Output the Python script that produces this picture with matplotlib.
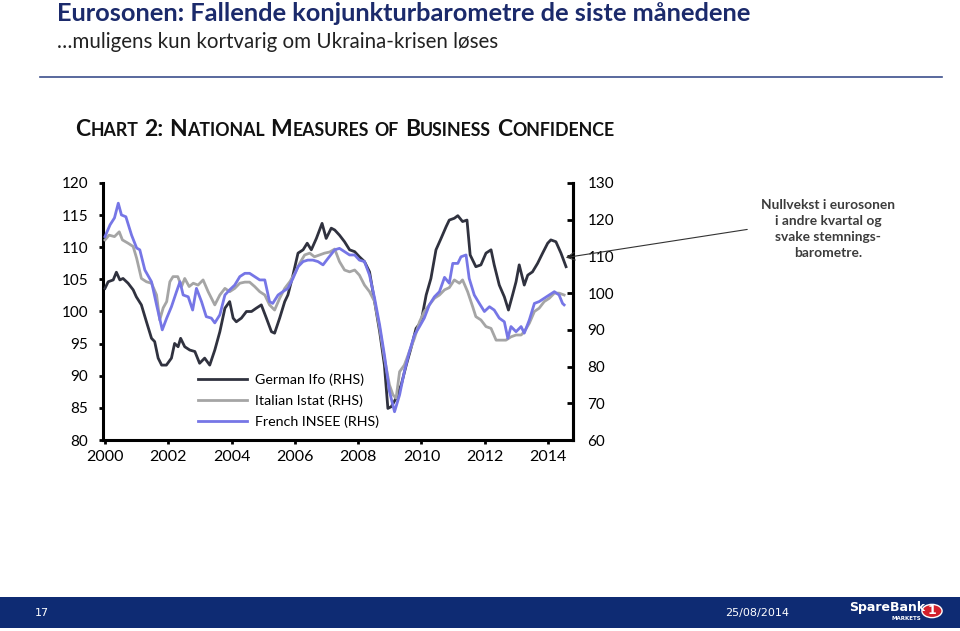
import matplotlib
matplotlib.use("Agg")
import matplotlib.pyplot as plt
from matplotlib.lines import Line2D
from matplotlib.patches import Rectangle, Circle, FancyArrowPatch
from matplotlib.transforms import IdentityTransform

plt.rcParams['font.family'] = ['Lato', 'DejaVu Sans']

# ---------------- data (right-hand scale) ----------------
german_t = [2000.0, 2000.1, 2000.26, 2000.36, 2000.47, 2000.57, 2000.73, 2000.89, 2000.99,
            2001.15, 2001.31, 2001.47, 2001.57, 2001.68, 2001.79, 2001.94, 2002.1, 2002.2,
            2002.31, 2002.39, 2002.52, 2002.68, 2002.84, 2002.99, 2003.15, 2003.31, 2003.47,
            2003.63, 2003.79, 2003.94, 2004.05, 2004.15, 2004.31, 2004.47, 2004.63, 2004.78,
            2004.94, 2005.1, 2005.26, 2005.36, 2005.52, 2005.68, 2005.78, 2005.94, 2006.1,
            2006.26, 2006.39, 2006.52, 2006.68, 2006.86, 2006.99, 2007.15, 2007.26, 2007.41,
            2007.57, 2007.73, 2007.89, 2008.04, 2008.2, 2008.36, 2008.52, 2008.68, 2008.83,
            2008.94, 2009.05, 2009.2, 2009.36, 2009.52, 2009.67, 2009.83, 2009.99, 2010.15,
            2010.3, 2010.46, 2010.62, 2010.78, 2010.88, 2011.04, 2011.15, 2011.3, 2011.44,
            2011.54, 2011.72, 2011.88, 2012.04, 2012.2, 2012.3, 2012.46, 2012.62, 2012.75,
            2012.88, 2012.99, 2013.09, 2013.25, 2013.36, 2013.51, 2013.67, 2013.83, 2013.99,
            2014.09, 2014.25, 2014.41, 2014.57]
german_v = [101.3, 103.1, 103.6, 105.7, 103.6, 104.0, 102.7, 100.9, 99.0,
            96.8, 92.2, 87.7, 86.8, 82.3, 80.4, 80.4, 82.3, 86.3,
            85.4, 87.7, 85.4, 84.5, 84.1, 80.9, 82.3, 80.4, 84.5,
            89.5, 95.9, 97.7, 93.2, 92.2, 93.2, 95.0, 95.0, 95.9,
            96.8, 93.2, 89.5, 89.1, 93.2, 97.7, 99.5, 104.9, 110.9,
            111.8, 113.6, 111.8, 114.9, 119.0, 114.9, 117.7, 117.2, 115.8,
            114.0, 111.8, 111.3, 109.9, 108.6, 105.8, 97.7, 89.5, 80.4,
            68.6, 69.1, 71.4, 75.0, 80.4, 85.0, 90.4, 92.2, 99.5,
            104.0, 111.8, 114.9, 118.1, 119.9, 120.4, 121.1, 119.5, 119.9,
            110.4, 107.2, 107.7, 110.9, 111.8, 107.7, 102.2, 99.0, 95.4,
            99.5, 103.1, 107.7, 102.2, 104.9, 105.8, 108.1, 110.9, 113.6,
            114.5, 114.0, 110.9, 107.2]

italian_t = [2000.0, 2000.13, 2000.3, 2000.45, 2000.55, 2000.73, 2000.89, 2001.0, 2001.15,
             2001.31, 2001.47, 2001.63, 2001.73, 2001.84, 2001.95, 2002.05, 2002.15, 2002.3,
             2002.42, 2002.52, 2002.66, 2002.79, 2002.94, 2003.1, 2003.26, 2003.47, 2003.63,
             2003.79, 2003.94, 2004.1, 2004.26, 2004.42, 2004.57, 2004.73, 2004.89, 2005.05,
             2005.2, 2005.36, 2005.52, 2005.68, 2005.84, 2006.0, 2006.15, 2006.31, 2006.47,
             2006.62, 2006.78, 2006.94, 2007.1, 2007.26, 2007.41, 2007.57, 2007.73, 2007.89,
             2008.04, 2008.2, 2008.36, 2008.52, 2008.68, 2008.83, 2008.99, 2009.1, 2009.2,
             2009.31, 2009.46, 2009.62, 2009.78, 2009.94, 2010.09, 2010.25, 2010.41, 2010.57,
             2010.73, 2010.88, 2011.04, 2011.2, 2011.3, 2011.46, 2011.62, 2011.72, 2011.88,
             2012.04, 2012.2, 2012.36, 2012.51, 2012.67, 2012.83, 2012.99, 2013.15, 2013.25,
             2013.41, 2013.57, 2013.72, 2013.88, 2014.04, 2014.2, 2014.35, 2014.51]
italian_v = [114.5, 115.8, 115.4, 116.7, 114.5, 113.6, 112.7, 109.5, 104.0,
             103.1, 102.7, 99.5, 92.7, 96.0, 97.7, 103.1, 104.5, 104.5,
             101.8, 104.0, 101.8, 102.7, 102.2, 103.6, 100.4, 96.8, 99.5,
             101.3, 100.4, 101.3, 102.7, 103.0, 103.0, 101.8, 100.4, 99.5,
             96.8, 95.4, 98.6, 101.3, 103.1, 105.4, 108.1, 110.4, 110.9,
             109.9, 110.4, 110.9, 111.2, 112.0, 108.6, 106.3, 105.8, 106.3,
             104.9, 102.2, 100.4, 97.7, 90.4, 82.3, 75.0, 72.3, 71.4,
             78.6, 80.4, 84.1, 87.7, 92.2, 95.0, 96.8, 98.6, 99.5,
             100.9, 101.5, 103.6, 102.7, 103.6, 100.4, 96.3, 93.6, 92.7,
             90.9, 90.4, 87.2, 87.2, 87.2, 88.1, 88.6, 88.6, 89.5,
             91.8, 95.0, 95.9, 97.7, 98.6, 100.0, 100.0, 99.5]

french_t = [2000.0, 2000.16, 2000.3, 2000.42, 2000.52, 2000.66, 2000.84,
            2001.0, 2001.1, 2001.26, 2001.47, 2001.63, 2001.81, 2001.95,
            2002.1, 2002.26, 2002.37, 2002.47, 2002.63, 2002.77, 2002.89,
            2003.05, 2003.2, 2003.36, 2003.47, 2003.63, 2003.79, 2003.94,
            2004.1, 2004.26, 2004.42, 2004.57, 2004.73, 2004.89,
            2005.05, 2005.2, 2005.3, 2005.47, 2005.62, 2005.78, 2005.94,
            2006.1, 2006.26, 2006.41, 2006.57, 2006.73, 2006.89,
            2007.05, 2007.26, 2007.41, 2007.57, 2007.73, 2007.89,
            2008.04, 2008.2, 2008.36, 2008.52, 2008.68, 2008.83, 2008.99,
            2009.15, 2009.31, 2009.46, 2009.62, 2009.78, 2009.94,
            2010.09, 2010.25, 2010.41, 2010.57, 2010.73, 2010.88, 2010.99,
            2011.15, 2011.25, 2011.41, 2011.51, 2011.67, 2011.83, 2011.99,
            2012.15, 2012.3, 2012.46, 2012.62, 2012.73, 2012.83, 2012.99,
            2013.15, 2013.25, 2013.41, 2013.57, 2013.72, 2013.88,
            2014.04, 2014.2, 2014.35, 2014.46, 2014.51]
french_v = [115.4, 118.6, 120.5, 124.5, 121.3, 120.8, 115.8,
            112.3, 111.8, 106.3, 103.1, 96.8, 90.0, 93.2,
            96.3, 100.4, 103.1, 99.5, 99.0, 95.4, 101.3,
            97.7, 93.6, 93.2, 91.9, 94.1, 99.5, 100.9,
            102.2, 104.5, 105.4, 105.4, 104.5, 103.6,
            103.6, 97.7, 97.2, 99.5, 100.4, 101.3, 104.0,
            107.2, 108.6, 109.0, 109.0, 108.6, 107.7,
            109.5, 111.8, 112.2, 111.3, 110.4, 110.4,
            109.0, 108.6, 104.9, 98.6, 91.3, 83.2, 73.2,
            67.7, 72.3, 78.6, 84.1, 88.6, 90.9,
            93.2, 96.8, 99.0, 100.4, 104.3, 102.7, 108.1,
            108.1, 109.9, 110.4, 104.0, 99.5, 97.2, 95.0,
            96.3, 95.4, 93.2, 92.2, 87.7, 90.9, 89.5,
            90.9, 89.1, 92.7, 97.2, 97.7, 98.6,
            99.5, 100.4, 99.5, 97.2, 96.8]

series_labels = ["German Ifo (RHS)", "Italian Istat (RHS)", "French INSEE (RHS)"]
x_ticks = [2000, 2002, 2004, 2006, 2008, 2010, 2012, 2014]
left_ticks = [80, 85, 90, 95, 100, 105, 110, 115, 120]
right_ticks = [60, 70, 80, 90, 100, 110, 120, 130]

title = "Eurosonen: Fallende konjunkturbarometre de siste månedene"
subtitle = "…muligens kun kortvarig om Ukraina-krisen løses"
note = "Nullvekst i eurosonen\ni andre kvartal og\nsvake stemnings-\nbarometre."
page_no = "17"
date_txt = "25/08/2014"

# ---------------- styling ----------------
W, H = 960, 631
NAVY = "#1B2A6B"
BAR = "#0E2B73"
C_GER = "#30323F"
C_ITA = "#A5A5A5"
C_FRA = "#7676E6"

fig = plt.figure(figsize=(9.6, 6.31), dpi=100)
fig.patch.set_facecolor("white")


def fx(x):
    return x / W


def fy(y):
    return 1 - y / H


# slide header
fig.text(fx(57), fy(21), title, fontsize=18.3, fontweight="bold", color=NAVY,
         va="baseline", ha="left")
fig.text(fx(57), fy(48), subtitle, fontsize=14.8, color="#222222",
         va="baseline", ha="left")
fig.add_artist(Line2D([fx(40), fx(942)], [fy(77), fy(77)], transform=fig.transFigure,
                      color="#3C4F8C", lw=1.2))

# chart title in small caps
renderer = fig.canvas.get_renderer()
BIG, SMALL, GAP = 16.5, 12.8, 6
pieces = [("C", BIG, 0), ("HART", SMALL, GAP), ("2:", BIG, GAP), ("N", BIG, 0), ("ATIONAL", SMALL, GAP),
          ("M", BIG, 0), ("EASURES", SMALL, GAP), ("OF", SMALL, GAP), ("B", BIG, 0),
          ("USINESS", SMALL, GAP), ("C", BIG, 0), ("ONFIDENCE", SMALL, 0)]
xpos = 75
for txt, size, gap in pieces:
    t = fig.text(fx(xpos), fy(136), txt, fontsize=size, fontweight="bold", color="#111111",
                 va="baseline", ha="left")
    bb = t.get_window_extent(renderer)
    xpos = bb.x1 + gap

# axes
ax = fig.add_axes([fx(103), fy(440), (573 - 103) / W, (440 - 183) / H])
ax.set_xlim(1999.937, 2014.79)
ax.set_ylim(80, 120)
ax.set_yticks(left_ticks)
ax.set_xticks(x_ticks)
ax.set_xticklabels([str(v) for v in x_ticks])
for s in ["left", "bottom", "right"]:
    ax.spines[s].set_linewidth(2.2)
    ax.spines[s].set_color("black")
ax.spines["top"].set_visible(False)
ax.tick_params(axis="y", direction="out", length=3, width=2, pad=7.5, labelsize=11)
ax.tick_params(axis="x", direction="out", length=3, width=2, pad=4, labelsize=11.5)

ax2 = ax.twinx()
ax2.set_ylim(60, 130)
ax2.set_yticks(right_ticks)
ax2.spines["top"].set_visible(False)
ax2.spines["right"].set_linewidth(2.2)
ax2.spines["left"].set_visible(False)
ax2.spines["bottom"].set_visible(False)
ax2.tick_params(axis="y", direction="in", length=4, width=2, pad=10.5, labelsize=11)

l1, = ax2.plot(german_t, german_v, color=C_GER, lw=2.0, label=series_labels[0])
l2, = ax2.plot(italian_t, italian_v, color=C_ITA, lw=2.0, label=series_labels[1])
l3, = ax2.plot(french_t, french_v, color=C_FRA, lw=2.0, label=series_labels[2])

ax2.legend(handles=[l1, l2, l3], loc="upper left",
           bbox_to_anchor=(fx(198), fy(373)), bbox_transform=fig.transFigure,
           frameon=False, fontsize=10.3, handlelength=3.45, handletextpad=0.55,
           borderpad=0, borderaxespad=0, labelspacing=0.62)

# annotation
fig.text(fx(828), fy(229), note, fontsize=9.9, fontweight="bold", color="#3C3C3C",
         ha="center", va="center", linespacing=1.4)
arrow = FancyArrowPatch(posA=(750, H - 229), posB=(563, H - 258), arrowstyle="->",
                        mutation_scale=14, color="#333333", lw=0.8,
                        transform=IdentityTransform())
fig.add_artist(arrow)

# footer bar
fig.add_artist(Rectangle((0, fy(628)), 1, (628 - 597) / H, transform=fig.transFigure,
                         facecolor=BAR, edgecolor="none"))
fig.text(fx(42), fy(613), page_no, fontsize=8, color="white", ha="center", va="center",
         family="DejaVu Sans")
fig.text(fx(757), fy(613), date_txt, fontsize=8, color="white", ha="center", va="center",
         family="DejaVu Sans")
fig.text(fx(887), fy(607), "SpareBank", fontsize=9, fontweight="bold", color="white",
         ha="center", va="center", family="DejaVu Sans")
fig.text(fx(906), fy(618), "MARKETS", fontsize=4, fontweight="bold", color="white",
         ha="center", va="center", family="DejaVu Sans")
fig.add_artist(Circle((fx(932), fy(611)), 0.0105, transform=fig.transFigure,
                      facecolor="#D3202C", edgecolor="white", lw=1.0))
fig.text(fx(932), fy(611), "1", fontsize=9, fontweight="bold", color="white",
         ha="center", va="center", family="DejaVu Sans")

fig.savefig("out.png", dpi=100)
